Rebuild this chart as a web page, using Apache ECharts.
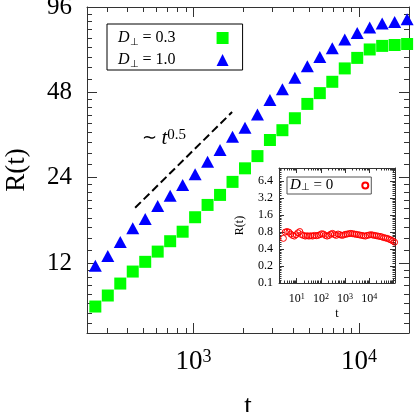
<!DOCTYPE html>
<html><head><meta charset="utf-8">
<script src="https://cdn.jsdelivr.net/npm/echarts/dist/echarts.min.js"></script>
<style>html,body{margin:0;padding:0;background:#fff}#c,#i{position:absolute;left:0;top:0;width:415px;height:412px}#i{pointer-events:none}</style>
</head><body><div id="c"></div><div id="i"></div>
<script>
// ---- main plot data ----
const tValues = [256, 304.4, 362, 430.5, 512, 608.9, 724.1, 861.1, 1024, 1217.7, 1448.2, 1722.2, 2048,
  2435.5, 2896.3, 3444.3, 4096, 4871, 5792.6, 6888.6, 8192, 9741.9, 11585.2, 13777, 16384, 19483.9];
const rPerp03 = [8.43, 9.22, 10.16, 11.2, 12.12, 13.17, 14.33, 15.48, 17.41, 19.24, 20.87, 23.2, 25.9,
  28.6, 32.6, 35.3, 38.9, 43.7, 47.7, 52.3, 58.3, 63.5, 68.0, 70.0, 70.5, 71.1];
const rPerp10 = [11.73, 12.72, 14.25, 15.92, 17.17, 19.08, 20.73, 22.62, 24.7, 27.3, 30.04, 33.46, 36.0,
  40.1, 45.07, 49.25, 54.0, 59.3, 63.9, 68.7, 73.7, 77.7, 81.2, 83.9, 85.0, 86.9];
const guideT = [445, 1712];
const guideR = [18.8, 40.9];
const seriesNames = ['D⊥ = 0.3', 'D⊥ = 1.0'];
// ---- inset data ----
const insetT = [2.83, 3.36, 4, 4.76, 5.66, 6.73, 8, 9.51, 11.31, 13.45, 16, 19.03, 22.63, 26.91, 32, 38.05,
  45.25, 53.82, 64, 76.11, 90.51, 107.6, 128, 152.2, 181, 215.3, 256, 304.4, 362, 430.5, 512, 608.9,
  724.1, 861.1, 1024, 1218, 1448, 1722, 2048, 2436, 2896, 3444, 4096, 4871, 5793, 6889, 8192, 9742,
  11585, 13777, 16384, 19484, 23170, 27554, 32768, 38968, 46341, 55109, 65536, 77936, 92682, 110218];
const insetR = [0.62, 0.80, 0.82, 0.80, 0.74, 0.70, 0.68, 0.72, 0.78, 0.82, 0.72, 0.70, 0.68, 0.69, 0.68, 0.69,
  0.68, 0.70, 0.69, 0.70, 0.72, 0.75, 0.74, 0.70, 0.68, 0.70, 0.74, 0.76, 0.72, 0.70, 0.74, 0.72,
  0.70, 0.71, 0.73, 0.74, 0.75, 0.76, 0.75, 0.74, 0.73, 0.72, 0.71, 0.70, 0.69, 0.68, 0.70, 0.71,
  0.72, 0.71, 0.70, 0.69, 0.68, 0.67, 0.66, 0.64, 0.63, 0.62, 0.60, 0.58, 0.56, 0.53];
const insetName = 'D⊥ = 0';
// ---- axes / ticks ----
const mainXRange = [228, 20000];
const mainYRange = [6.8, 96];
const insetXRange = [1.86, 115000];
const insetYRange = [0.1, 11];
const mainXTicks = [1000, 10000];
const mainYTicks = [12, 24, 48, 96];
const insetXTicks = [10, 100, 1000, 10000];
const insetYTicks = [0.1, 0.2, 0.4, 0.8, 1.6, 3.2, 6.4];

const SERIF = 'Liberation Serif';
const AX = '#333';

function pow10Label(list) {
  return function (v) {
    for (const t of list) if (Math.abs(v - t) / t < 1e-6) return '{b|10}{s|' + Math.round(Math.log10(t)) + '}';
    return '';
  };
}
// log2 tick axis whose ticks land on the listed tick values
function factorOf(list) { return list[0] / Math.pow(2, Math.floor(Math.log2(list[0]))); }
function listLabel(list) {
  const f = factorOf(list);
  return function (v) {
    const x = v * f;
    for (const t of list) if (Math.abs(x - t) / t < 1e-6) return String(t);
    return '';
  };
}
function xAx(range, pos, labels, big, name) {
  const o = {
    type: 'log', logBase: 10, gridIndex: 0, position: pos, min: range[0], max: range[1],
    axisLine: { show: true, lineStyle: { color: AX, width: 1 } },
    axisTick: { show: true, inside: false, length: big ? -10 : -5, lineStyle: { color: AX } },
    minorTick: { show: true, splitNumber: 9, length: big ? -5 : -2.5, lineStyle: { color: AX } },
    splitLine: { show: false },
    axisLabel: { show: false }
  };
  if (labels) {
    o.axisLabel = {
      show: true, formatter: pow10Label(labels), margin: big ? 15 : 10, color: '#000',
      rich: {
        b: { fontFamily: SERIF, fontSize: big ? 27 : 12, color: '#000' },
        s: { fontFamily: SERIF, fontSize: big ? 18 : 8, lineHeight: big ? 10 : 5, color: '#000', verticalAlign: 'top' }
      }
    };
    o.name = name; o.nameLocation = 'middle'; o.nameGap = big ? 60 : 25;
    o.nameTextStyle = { fontFamily: SERIF, fontSize: big ? 27 : 12, color: '#000' };
  }
  return o;
}
function yTickAx(range, pos, list, big, name) {
  const f = factorOf(list);
  const o = {
    type: 'log', logBase: 2, gridIndex: 0, position: pos, min: range[0] / f, max: range[1] / f,
    axisLine: { show: true, lineStyle: { color: AX, width: 1 } },
    axisTick: { show: true, inside: false, length: big ? -10 : -5, lineStyle: { color: AX } },
    minorTick: { show: true, splitNumber: 9, length: big ? -5 : -2.5, lineStyle: { color: AX } },
    splitLine: { show: false },
    axisLabel: { show: false }
  };
  if (name) {
    o.axisLabel = { show: true, formatter: listLabel(list), margin: big ? 15 : 6, color: '#000',
      fontFamily: SERIF, fontSize: big ? 25 : 12 };
    o.name = name; o.nameLocation = 'middle'; o.nameGap = big ? 57 : 33; o.nameRotate = 90;
    o.nameTextStyle = { fontFamily: SERIF, fontSize: big ? 27 : 12, color: '#000' };
  }
  return o;
}
function yDataAx(range) {
  return { type: 'log', logBase: 2, gridIndex: 0, min: range[0], max: range[1], show: false };
}
function legendFmt(name) {
  const m = name.split('⊥');
  return '{i|D}{s|⊥}{n|' + m[1] + '}{p| }';
}
function legendRich(fs, spacer) {
  return {
    i: { fontFamily: SERIF, fontStyle: 'italic', fontSize: fs, color: '#000' },
    s: { fontFamily: SERIF, fontSize: Math.round(fs * 0.65), color: '#000', verticalAlign: 'bottom' },
    n: { fontFamily: SERIF, fontSize: fs, color: '#000' },
    p: { width: spacer, fontSize: fs }
  };
}

// ---- main chart ----
const chart = echarts.init(document.getElementById('c'), null, { renderer: 'canvas' });
chart.setOption({
  animation: false,
  backgroundColor: '#fff',
  grid: [{ left: 87, top: 7, width: 322, height: 326, outerBoundsMode: 'none', containLabel: false }],
  xAxis: [
    xAx(mainXRange, 'bottom', mainXTicks, true, 't'),
    xAx(mainXRange, 'top', null, true, null)
  ],
  yAxis: [
    yDataAx(mainYRange),
    yTickAx(mainYRange, 'left', mainYTicks, true, 'R(t)'),
    yTickAx(mainYRange, 'right', mainYTicks, true, null)
  ],
  legend: [{
    data: seriesNames, orient: 'vertical', left: 107, top: 24, align: 'right',
    padding: [5, 14, 1, 11], itemGap: 4, itemWidth: 12, itemHeight: 12,
    borderColor: '#000', borderWidth: 1, backgroundColor: '#fff',
    formatter: legendFmt,
    textStyle: { lineHeight: 18, fontFamily: SERIF, fontSize: 16, color: '#000', rich: legendRich(16, 36) }
  }],
  graphic: [{
    type: 'text', left: 142, top: 128, z: 10,
    style: {
      text: '{a|∼ }{t|t}{s|0.5}',
      rich: {
        a: { fontFamily: SERIF, fontSize: 18, fill: '#000' },
        t: { fontFamily: SERIF, fontStyle: 'italic', fontSize: 21, fill: '#000' },
        s: { fontFamily: SERIF, fontSize: 15, fill: '#000', verticalAlign: 'top', lineHeight: 12 }
      }
    }
  }],
  series: [
    {
      name: seriesNames[0], type: 'scatter', xAxisIndex: 0, yAxisIndex: 0,
      symbol: 'rect', symbolSize: 12, itemStyle: { color: '#00ff00', opacity: 1 },
      data: tValues.map((t, i) => [t, rPerp03[i]])
    },
    {
      name: seriesNames[1], type: 'scatter', xAxisIndex: 0, yAxisIndex: 0,
      symbol: 'triangle', symbolSize: [13, 12], itemStyle: { color: '#0000ff', opacity: 1 },
      data: tValues.map((t, i) => [t, rPerp10[i]])
    },
    {
      name: 'guide', type: 'line', xAxisIndex: 0, yAxisIndex: 0, symbol: 'none',
      lineStyle: { color: '#000', width: 2, type: [8, 4] },
      data: guideT.map((t, i) => [t, guideR[i]])
    }
  ]
});

// ---- inset chart (overlay, transparent canvas) ----
const inset = echarts.init(document.getElementById('i'), null, { renderer: 'canvas' });
inset.setOption({
  animation: false,
  grid: [{ left: 279, top: 168, width: 116, height: 115, outerBoundsMode: 'none', containLabel: false,
    show: true, backgroundColor: '#fff', borderWidth: 0 }],
  xAxis: [
    xAx(insetXRange, 'bottom', insetXTicks, false, 't'),
    xAx(insetXRange, 'top', null, false, null)
  ],
  yAxis: [
    yDataAx(insetYRange),
    yTickAx(insetYRange, 'left', insetYTicks, false, 'R(t)'),
    yTickAx(insetYRange, 'right', insetYTicks, false, null)
  ],
  legend: [{
    data: [insetName], orient: 'vertical', left: 287, top: 177, align: 'right',
    padding: [1, 2, 1, 3], itemWidth: 6, itemHeight: 6,
    borderColor: '#555', borderWidth: 1, backgroundColor: '#fff',
    formatter: legendFmt,
    textStyle: { lineHeight: 13, fontFamily: SERIF, fontSize: 15, color: '#000', rich: legendRich(15, 24) }
  }],
  series: [{
    name: insetName, type: 'scatter', xAxisIndex: 0, yAxisIndex: 0,
    symbol: 'circle', symbolSize: 6,
    itemStyle: { color: 'rgba(255,0,0,0)', borderColor: '#ff0000', borderWidth: 1, opacity: 1 },
    data: insetT.map((t, i) => [t, insetR[i]])
  }]
});
</script></body></html>
